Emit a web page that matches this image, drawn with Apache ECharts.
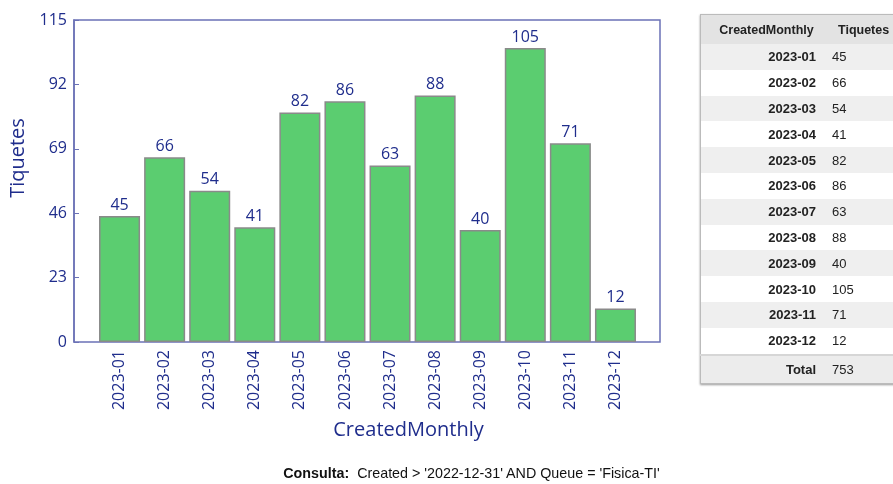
<!DOCTYPE html>
<html>
<head>
<meta charset="utf-8">
<script src="https://cdn.jsdelivr.net/npm/echarts@6/dist/echarts.min.js"></script>
<style>
  html, body { margin: 0; padding: 0; background: #fff; }
  #wrap { position: relative; width: 893px; height: 484px; overflow: hidden; }
  #chart { position: absolute; left: 0; top: 0; width: 893px; height: 484px; }
  #tbl {
    position: absolute; left: 700px; top: 14px; width: 200px;
    border-collapse: collapse; font-family: "Liberation Sans", Arial, sans-serif;
    font-size: 13px; color: #222; border: 1px solid #bbb; border-right: none;
    box-shadow: 0 1px 2px #999;
  }
  #tbl th { background: #e3e3e3; height: 29px; font-size: 12.5px; font-weight: bold; padding: 0; }
  #tbl th.h2 { text-align: left; padding-left: 6px; }
  #tbl td { height: 25.8px; padding: 0; }
  #tbl tr.odd td { background: #efefef; }
  #tbl td.k { text-align: right; font-weight: bold; width: 115px; padding-right: 16px; }
  #tbl td.v { text-align: left; }
  #tbl tr.tot td { background: #ececec; border-top: 2px solid #d6d6d6; height: 27px; }
  #foot {
    position: absolute; left: 0; width: 943px; top: 465px; text-align: center;
    font-family: "Liberation Sans", Arial, sans-serif; font-size: 14.3px; color: #111;
  }
</style>
</head>
<body>
<div id="wrap">
  <div id="chart"></div>
  <table id="tbl"></table>
  <div id="foot"><b>Consulta:</b>&nbsp; Created &gt; '2022-12-31' AND Queue = 'Fisica-TI'</div>
</div>
<script>
// datos del gráfico
const months = ['2023-01', '2023-02', '2023-03', '2023-04', '2023-05', '2023-06',
  '2023-07', '2023-08', '2023-09', '2023-10', '2023-11', '2023-12'];
const tiquetes = [45, 66, 54, 41, 82, 86, 63, 88, 40, 105, 71, 12];
const yTicks = [0, 23, 46, 69, 92, 115];

const navy = '#1f2d8c';
const frame = '#6b72b6';
const font = '"Open Sans", "Noto Sans", sans-serif';

// tabla lateral
const tbl = document.getElementById('tbl');
let html = '<tr><th>CreatedMonthly</th><th class="h2">Tiquetes</th></tr>';
months.forEach((m, i) => {
  html += `<tr class="${i % 2 === 0 ? 'odd' : ''}"><td class="k">${m}</td><td class="v">${tiquetes[i]}</td></tr>`;
});
const total = tiquetes.reduce((a, b) => a + b, 0);
html += `<tr class="tot"><td class="k">Total</td><td class="v">${total}</td></tr>`;
tbl.innerHTML = html;

const chart = echarts.init(document.getElementById('chart'), null, { renderer: 'canvas' });

const option = {
  animation: false,
  grid: [
    // marco con el eje Y
    { left: 74, right: 233, top: 20, bottom: 142, show: true, borderColor: frame, borderWidth: 1.5,
      containLabel: false, outerBoundsMode: 'none' },
    // zona de las barras
    { left: 97, right: 255, top: 20, bottom: 142, containLabel: false, outerBoundsMode: 'none' }
  ],
  xAxis: [
    { gridIndex: 0, type: 'value', min: 0, max: 1, show: false },
    {
      gridIndex: 1,
      type: 'category',
      data: months,
      name: 'CreatedMonthly',
      nameLocation: 'middle',
      nameGap: 78,
      nameTextStyle: { color: navy, fontSize: 20, fontFamily: font, padding: [0, 0, 0, 82] },
      axisLine: { show: false },
      axisTick: { show: false },
      axisLabel: { rotate: 90, color: navy, fontSize: 16, fontFamily: font, margin: 8 }
    }
  ],
  yAxis: [
    {
      gridIndex: 0,
      type: 'value',
      min: 0,
      max: 115,
      interval: 23,
      name: 'Tiquetes',
      nameLocation: 'middle',
      nameGap: 40,
      nameTextStyle: { color: navy, fontSize: 20, fontFamily: font, padding: [0, 0, 0, 46] },
      axisLine: { show: true, lineStyle: { color: frame, width: 1.5 } },
      axisTick: { show: true, inside: true, length: 5, lineStyle: { color: frame } },
      axisLabel: {
        color: navy, fontSize: 16, fontFamily: font, margin: 7,
        formatter: (v) => (yTicks.includes(v) ? String(v) : '')
      },
      splitLine: { show: false }
    },
    { gridIndex: 1, type: 'value', min: 0, max: 115, show: false }
  ],
  series: [
    {
      type: 'bar',
      xAxisIndex: 1,
      yAxisIndex: 1,
      data: tiquetes,
      barCategoryGap: '9%',
      itemStyle: { color: '#5bcd70', borderColor: '#8a8a8a', borderWidth: 1.5 },
      label: { show: true, position: 'top', distance: 3, color: navy, fontSize: 16, fontFamily: font }
    }
  ]
};

chart.setOption(option);
</script>
</body>
</html>
